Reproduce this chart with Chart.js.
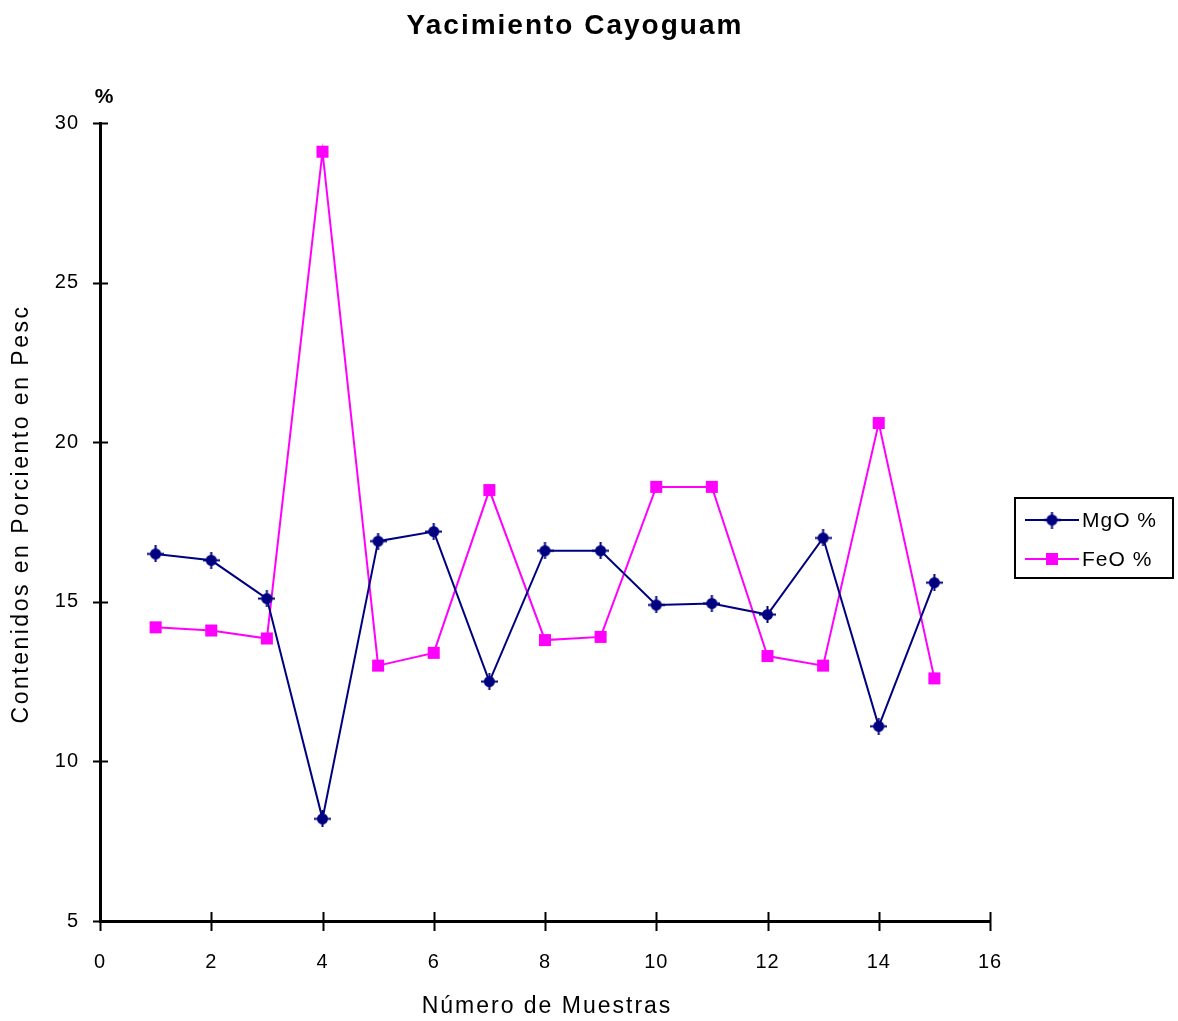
<!DOCTYPE html>
<html>
<head>
<meta charset="utf-8">
<title>Yacimiento Cayoguam</title>
<script src="https://cdn.jsdelivr.net/npm/chart.js@4/dist/chart.umd.min.js"></script>
<style>
  html, body { margin: 0; padding: 0; background: #ffffff; }
  #wrap { width: 1178px; height: 1021px; }
</style>
</head>
<body>
<div id="wrap"><canvas id="chart" width="1178" height="1021"></canvas></div>
<script>
// Sample numbers along the horizontal axis
const sampleNumbers = [1, 2, 3, 4, 5, 6, 7, 8, 9, 10, 11, 12, 13, 14, 15];
// Weight-percent contents per sample
const mgoValues = [16.5, 16.3, 15.1, 8.2, 16.9, 17.2, 12.5, 16.6, 16.6, 14.9, 14.95, 14.6, 17.0, 11.1, 15.6];
const feoValues = [14.2, 14.1, 13.85, 29.1, 13.0, 13.4, 18.5, 13.8, 13.9, 18.6, 18.6, 13.3, 13.0, 20.6, 12.6];
// Axis ticks
const xTickValues = [0, 2, 4, 6, 8, 10, 12, 14, 16];
const yTickValues = [5, 10, 15, 20, 25, 30];
// Labels
const seriesLabels = ['MgO %', 'FeO %'];
const chartTitle = 'Yacimiento Cayoguam';
const xAxisTitle = 'Número de Muestras';
const yAxisTitle = 'Contenidos en Porciento en Pesc';
const yUnit = '%';

const NAVY = '#000080';
const MAGENTA = '#ff00ff';
const FONT = "'Liberation Sans', Arial, sans-serif";

// Filled blob with cross arms, used as the MgO marker
function makeStarMarker(color) {
  const c = document.createElement('canvas');
  c.width = 17; c.height = 17;
  const g = c.getContext('2d');
  g.fillStyle = color;
  g.beginPath();
  g.arc(8.5, 8.5, 5.5, 0, Math.PI * 2);
  g.fill();
  g.fillRect(0, 7.5, 17, 2);
  g.fillRect(7.5, 0, 2, 17);
  return c;
}
const starMarker = makeStarMarker(NAVY);

const toPoints = (xs, ys) => xs.map((x, i) => ({ x: x, y: ys[i] }));

// Title, unit label, axis titles, crossing tick marks and the boxed legend
const decorations = {
  id: 'decorations',
  beforeDraw(chart) {
    chart.ctx.letterSpacing = '1px';
  },
  beforeDatasetsDraw(chart) {
    chart.ctx.letterSpacing = '0px';
  },
  afterDraw(chart) {
    const ctx = chart.ctx;
    const xs = chart.scales.x, ys = chart.scales.y;
    const area = chart.chartArea;
    ctx.save();
    ctx.fillStyle = '#000';
    ctx.textAlign = 'center';
    ctx.textBaseline = 'middle';
    ctx.letterSpacing = '2px';
    ctx.font = 'bold 28px ' + FONT;
    ctx.fillText(chartTitle, 575, 26);

    ctx.letterSpacing = '0px';
    ctx.font = 'bold 21px ' + FONT;
    ctx.fillText(yUnit, 104, 97);

    // x-axis title
    ctx.letterSpacing = '2px';
    ctx.font = '23px ' + FONT;
    ctx.fillText(xAxisTitle, 547, 1007);

    // y-axis title, rotated
    ctx.save();
    ctx.translate(22, 514);
    ctx.rotate(-Math.PI / 2);
    ctx.letterSpacing = '2.5px';
    ctx.font = '23px ' + FONT;
    ctx.fillText(yAxisTitle, 0, 0);
    ctx.restore();

    // tick marks crossing both axes
    ctx.strokeStyle = '#000';
    ctx.lineWidth = 2;
    ctx.beginPath();
    xTickValues.forEach(v => {
      const px = Math.round(xs.getPixelForValue(v)) + 0.5;
      ctx.moveTo(px, area.bottom - 9);
      ctx.lineTo(px, area.bottom + 10);
    });
    yTickValues.forEach(v => {
      const py = Math.round(ys.getPixelForValue(v)) + 0.5;
      ctx.moveTo(area.left - 7, py);
      ctx.lineTo(area.left + 8, py);
    });
    ctx.stroke();

    // legend
    const box = { x: 1015, y: 498, w: 158, h: 80 };
    ctx.lineWidth = 2;
    ctx.strokeRect(box.x, box.y, box.w, box.h);
    chart.data.datasets.forEach((ds, i) => {
      const cy = box.y + 22 + i * 39;
      ctx.strokeStyle = ds.borderColor;
      ctx.lineWidth = 2;
      ctx.beginPath();
      ctx.moveTo(box.x + 10, cy);
      ctx.lineTo(box.x + 64, cy);
      ctx.stroke();
      if (ds.pointStyle === 'rect') {
        ctx.fillStyle = ds.pointBackgroundColor;
        ctx.fillRect(box.x + 31, cy - 6, 12, 12);
      } else {
        ctx.drawImage(ds.pointStyle, box.x + 37 - 8.5, cy - 8.5);
      }
      ctx.fillStyle = '#000';
      ctx.textAlign = 'left';
      ctx.letterSpacing = '1px';
      ctx.font = '21px ' + FONT;
      ctx.fillText(ds.label, box.x + 67, cy + 1);
    });
    ctx.restore();
  }
};

new Chart(document.getElementById('chart'), {
  type: 'line',
  data: {
    datasets: [
      {
        label: seriesLabels[0],
        data: toPoints(sampleNumbers, mgoValues),
        borderColor: NAVY,
        backgroundColor: NAVY,
        borderWidth: 2,
        pointStyle: starMarker,
        pointBackgroundColor: NAVY,
        pointRadius: 8,
        tension: 0,
        fill: false
      },
      {
        label: seriesLabels[1],
        data: toPoints(sampleNumbers, feoValues),
        borderColor: MAGENTA,
        backgroundColor: MAGENTA,
        borderWidth: 2,
        pointStyle: 'rect',
        pointBackgroundColor: MAGENTA,
        pointBorderWidth: 0,
        pointRadius: 8.5,
        tension: 0,
        fill: false
      }
    ]
  },
  options: {
    responsive: false,
    animation: false,
    devicePixelRatio: 1,
    layout: { padding: { top: 123, right: 188, bottom: 0, left: 0 } },
    plugins: {
      legend: { display: false },
      title: { display: false },
      tooltip: { enabled: false }
    },
    scales: {
      x: {
        type: 'linear',
        position: 'bottom',
        min: 0,
        max: 16,
        afterFit: s => { s.height = 100; },
        afterBuildTicks: s => { s.ticks = xTickValues.map(v => ({ value: v })); },
        ticks: { color: '#000', font: { family: FONT, size: 20 }, padding: 29, maxRotation: 0 },
        grid: { display: true, drawOnChartArea: false, drawTicks: false, color: '#000' },
        border: { display: true, color: '#000', width: 3 },
        title: { display: false }
      },
      y: {
        type: 'linear',
        position: 'left',
        min: 5,
        max: 30,
        afterFit: s => { s.width = 100; },
        afterBuildTicks: s => { s.ticks = yTickValues.map(v => ({ value: v })); },
        ticks: { color: '#000', font: { family: FONT, size: 20 }, padding: 21 },
        grid: { display: true, drawOnChartArea: false, drawTicks: false, color: '#000' },
        border: { display: true, color: '#000', width: 3 },
        title: { display: false }
      }
    }
  },
  plugins: [decorations]
});
</script>
</body>
</html>
